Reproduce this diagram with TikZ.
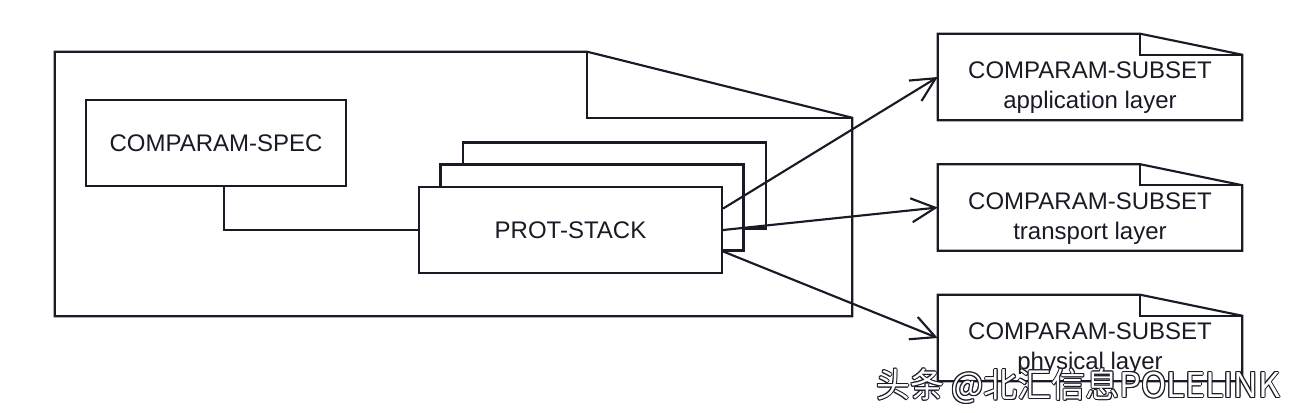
\documentclass[tikz,border=0pt]{standalone}
\usepackage{fontspec}
\setmainfont{Liberation Sans}
\newfontfamily\cjk{Noto Sans CJK SC}
\usetikzlibrary{arrows.meta}
\definecolor{inkline}{RGB}{28,24,38}
\tikzset{
  line/.style={draw=inkline,line width=1.6pt},
  box/.style={line,fill=white,minimum width=#1,minimum height=64.5pt,inner sep=0pt},
  bare/.style={minimum width=#1,minimum height=64.5pt,inner sep=0pt},
  label/.style={text=inkline,font=\fontsize{18pt}{22.5pt}\selectfont,align=center},
  link/.style={line,-{Straight Barb[length=18pt,width=18pt,line width=1.6pt]}}
}
\begin{document}
\begin{tikzpicture}[x=0.75pt,y=0.75pt,yscale=-1,xscale=1]
\useasboundingbox (0,0) rectangle (1302,412);

% package frame with folded corner
\node[minimum width=597.75pt,minimum height=198pt,inner sep=0pt] (pkg) at (453.5,184) {};
\draw[line] (pkg.south west) -- (pkg.north west) -- ([xshift=-198.75pt]pkg.north east)
  -- ([yshift=49.5pt]pkg.north east) -- (pkg.south east) -- cycle;
\draw[line] ([xshift=-198.75pt]pkg.north east) |- ([yshift=49.5pt]pkg.north east);

% spec box
\node[box=195pt,label] (spec) at (216,143) {COMPARAM-SPEC};

% stacked protocol boxes
\node[box=227.25pt] (stackc) at (614.5,185.5) {};
\node[box=227.25pt] (stackb) at (592,207.5) {};
\node[box=227.25pt,label] (stack) at (570.5,230) {PROT-STACK};

\draw[line] ([xshift=6pt]spec.south) |- (stack.west);

% subset documents
\node[bare=228pt] (app) at (1090,77) {};
\node[bare=228pt] (trans) at (1090,207.5) {};
\node[bare=228pt] (phys) at (1090,338) {};
\foreach \n in {app,trans,phys}{
  \draw[line,fill=white] (\n.south west) -- (\n.north west) -- ([xshift=-76.5pt]\n.north east)
    -- ([yshift=15.75pt]\n.north east) -- (\n.south east) -- cycle;
  \draw[line] ([xshift=-76.5pt]\n.north east) |- ([yshift=15.75pt]\n.north east);
}
\node[label] (apptext) at ([yshift=8pt]app.center) {COMPARAM-SUBSET\\application layer};
\node[label] (transtext) at ([yshift=8pt]trans.center) {COMPARAM-SUBSET\\transport layer};
\node[label] (phystext) at ([yshift=8pt]phys.center) {COMPARAM-SUBSET\\physical layer};

% connectors
\draw[link] (stack.8.6) -- (app.west);
\draw[link] (stack.east) -- (trans.west);
\draw[link] (stack.-8.3) -- (phys.west);

% watermark
\foreach \dx/\dy in {-1/0,1/0,0/-1,0/1,-0.7/-0.7,0.7/0.7,-0.7/0.7,0.7/-0.7}
  \node[text=inkline,font=\cjk\fontsize{25.5pt}{25.5pt}\selectfont] at ([shift={(\dx,\dy)}]1078,386) {头条 @北汇信息POLELINK};
\node[text=white,font=\cjk\fontsize{25.5pt}{25.5pt}\selectfont] (mark) at (1078,386) {头条 @北汇信息POLELINK};
\end{tikzpicture}
\end{document}
